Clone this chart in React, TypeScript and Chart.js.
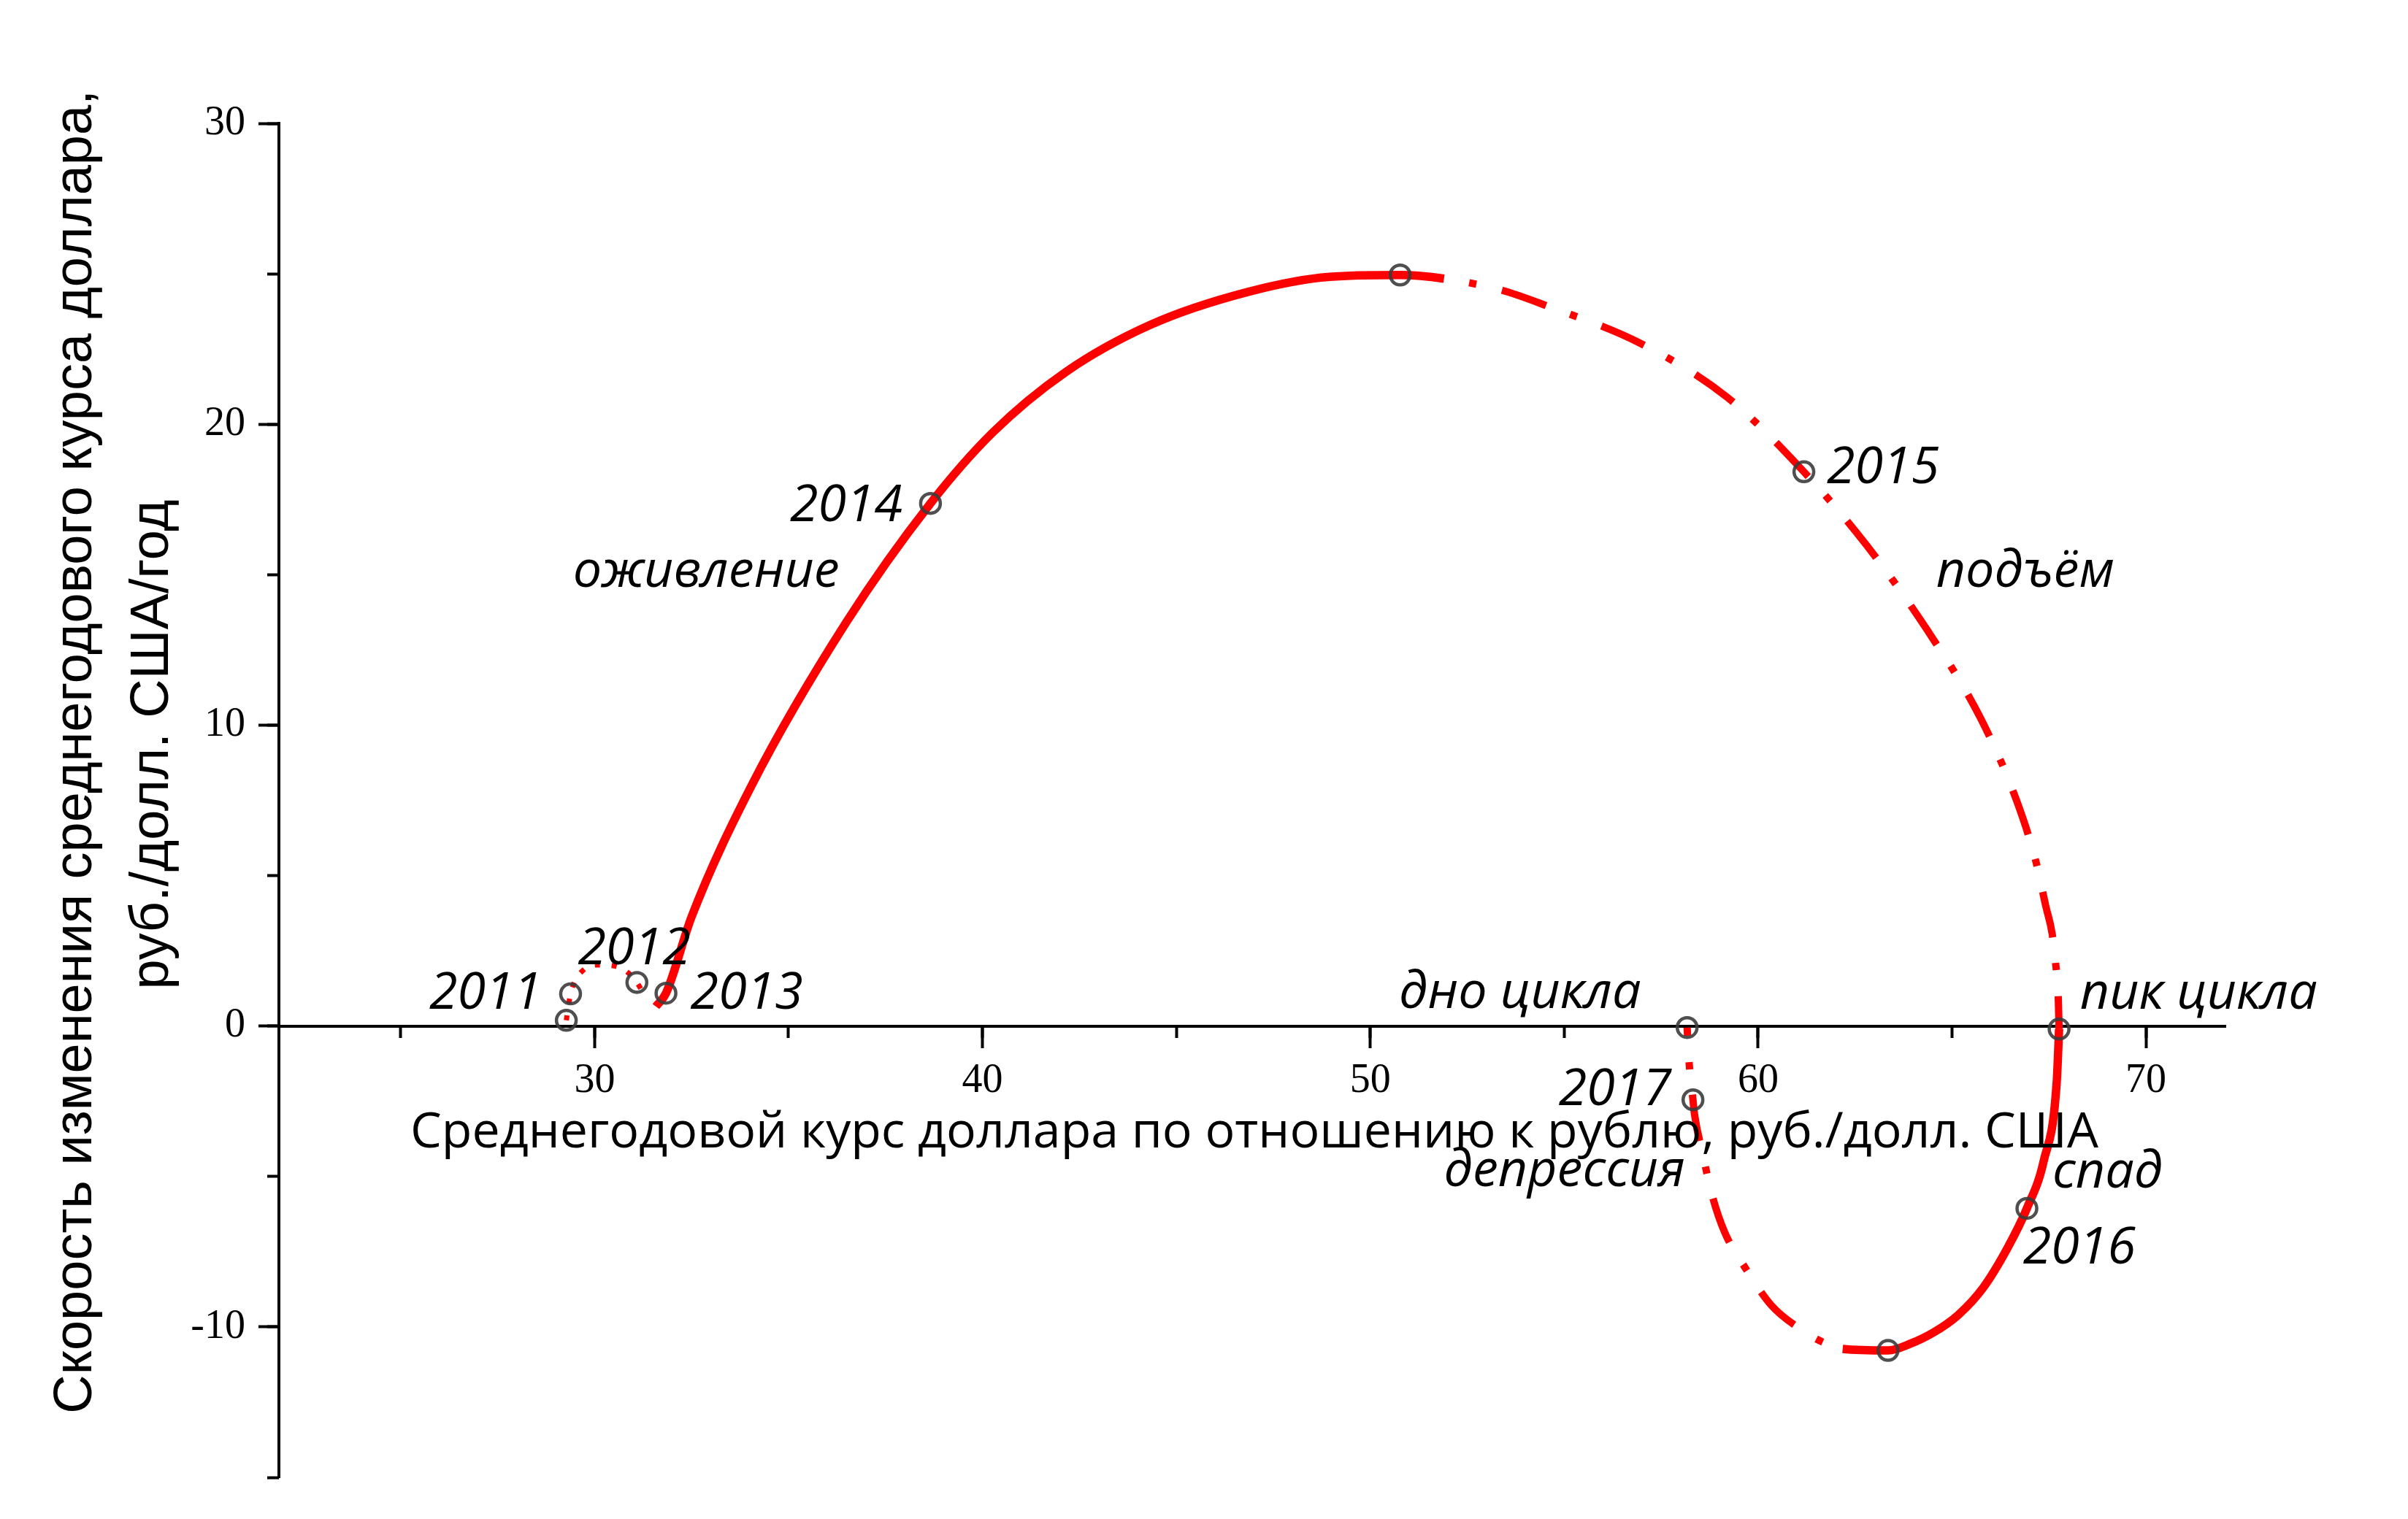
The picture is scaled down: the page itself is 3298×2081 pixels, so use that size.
import { useEffect, useRef } from 'react';
import { Chart, registerables } from 'chart.js';

Chart.register(...registerables);

// ---------- data ----------
const X_MIN = 21.86;
const X_MAX = 72.05;
const Y_MIN = -15;
const Y_MAX = 30;

// 2010 -> 2013 (dotted)
const preX = [29.27, 29.38, 29.72, 30.11, 30.66, 31.09, 31.30];
const preY = [0.19, 1.07, 1.87, 2.03, 1.94, 1.45, 0.97];

// оживление (solid)
const riseX = [31.58, 31.84, 32.50, 34.05, 36.49, 38.66, 40.26, 42.14, 44.34, 46.85, 48.95, 50.77, 51.90];
const riseY = [0.65, 1.09, 3.63, 8.00, 13.42, 17.37, 19.72, 21.73, 23.31, 24.40, 24.90, 24.96, 24.84];

// подъём (dash-dot)
const upX = [51.90, 53.40, 54.50, 56.95, 59.20, 61.18, 62.79, 64.35, 65.72, 66.66, 67.17, 67.42, 67.58, 67.67, 67.74, 67.76];
const upY = [24.84, 24.45, 23.96, 22.70, 20.90, 18.42, 15.99, 13.18, 10.27, 7.51, 5.43, 3.97, 3.08, 2.10, 0.90, -0.10];

// спад (solid)
const downX = [67.76, 67.70, 67.36, 66.93, 66.42, 65.80, 65.16, 64.54, 63.92, 63.35, 62.18];
const downY = [-0.10, -1.84, -4.50, -6.06, -7.40, -8.70, -9.60, -10.17, -10.56, -10.78, -10.73];

// депрессия (dash-dot)
const deprX = [62.18, 61.66, 61.15, 60.34, 59.70, 59.14, 58.83, 58.56, 58.36, 58.32, 58.22, 58.17];
const deprY = [-10.73, -10.50, -10.12, -9.28, -8.10, -6.86, -5.70, -4.19, -2.93, -2.45, -1.20, -0.05];

// circle markers
const markX = [29.27, 29.38, 31.09, 31.84, 38.66, 50.77, 61.18, 67.76, 66.93, 63.35, 58.32, 58.17];
const markY = [0.19, 1.07, 1.45, 1.09, 17.37, 24.96, 18.42, -0.10, -6.06, -10.78, -2.45, -0.05];

// tick steps
const X_MAJOR_STEP = 10;
const X_MINOR_STEP = 5;
const Y_MAJOR_STEP = 10;
const Y_MINOR_STEP = 5;

// annotations
const annoText = ['2011', '2012', '2013', '2014', '2015', '2016', '2017', 'оживление', 'подъём', 'пик цикла', 'спад', 'депрессия', 'дно цикла'];
const annoX = [28.64, 29.57, 32.47, 37.94, 61.77, 66.83, 57.76, 29.44, 64.59, 68.30, 67.59, 58.12, 50.74];
const annoY = [0.58, 2.06, 0.58, 16.79, 18.05, -7.90, -2.62, 14.59, 14.59, 0.58, -5.36, -5.33, 0.61];
const annoAlign = ['right', 'left', 'left', 'right', 'left', 'left', 'right', 'left', 'left', 'left', 'left', 'right', 'left'];

const xTitle = 'Среднегодовой курс доллара по отношению к рублю, руб./долл. США';
const yTitleLines = ['Скорость изменения среднегодового курса доллара,', 'руб./долл. США/год'];

// ---------- styling ----------
const RED = '#ff0000';
const NONE = 'rgba(0,0,0,0)';
const LINE_W = 11.5;
const DASH_W = 10;
const DASH_DOT = [64, 35, 10, 36];
const TICK_FONT = { family: '"Liberation Serif", serif', size: 56 };

const pts = (xs: number[], ys: number[]) => xs.map((x, i) => ({ x, y: ys[i] }));

// a neighbour point from the adjoining part of the curve is added (drawn invisibly)
// so that the smooth curve joins without a corner
function withNeighbours(xs: number[], ys: number[], lead: { x: number; y: number } | null, tail: { x: number; y: number } | null) {
  const data = pts(xs, ys);
  if (lead) data.unshift(lead);
  if (tail) data.push(tail);
  const n = data.length;
  return {
    data,
    segment: {
      borderColor: (c: any) => ((lead && c.p0DataIndex === 0) || (tail && c.p1DataIndex === n - 1) ? NONE : RED),
    },
  };
}

const textPlugin = {
  id: 'textPlugin',
  afterDraw(chart: any) {
    const { ctx, chartArea } = chart;
    const sx = chart.scales.x;
    const sy = chart.scales.y;
    ctx.save();
    ctx.fillStyle = '#000';
    ctx.textBaseline = 'alphabetic';
    ctx.font = 'italic 70px "Open Sans"';
    annoText.forEach((t, i) => {
      ctx.textAlign = annoAlign[i];
      ctx.fillText(t, sx.getPixelForValue(annoX[i]), sy.getPixelForValue(annoY[i]));
    });
    // x axis title
    ctx.font = '68px "Open Sans"';
    ctx.textAlign = 'center';
    ctx.fillText(xTitle, (chartArea.left + chartArea.right) / 2 + 3, sy.getPixelForValue(0) + 166);
    // y axis title
    ctx.font = '74px "Liberation Sans"';
    ctx.textBaseline = 'middle';
    const cx = [chartArea.left - 277, chartArea.left - 172];
    const cy = [1030, 1020];
    yTitleLines.forEach((line, i) => {
      ctx.save();
      ctx.translate(cx[i], cy[i]);
      ctx.rotate(-Math.PI / 2);
      ctx.textAlign = 'center';
      ctx.fillText(line, 0, 0);
      ctx.restore();
    });
    ctx.restore();
  },
};

export default function App() {
  const ref = useRef<HTMLCanvasElement>(null);
  useEffect(() => {
    if (!ref.current) return;
    const lineBase = {
      showLine: true,
      borderColor: RED,
      pointRadius: 0,
      cubicInterpolationMode: 'monotone',
      fill: false,
      order: 1,
    };
    const riseD = withNeighbours(riseX, riseY, null, { x: upX[1], y: upY[1] });
    const upD = withNeighbours(upX, upY, { x: riseX[riseX.length - 2], y: riseY[riseY.length - 2] }, null);
    const downD = withNeighbours(downX, downY, null, { x: deprX[1], y: deprY[1] });
    const deprD = withNeighbours(deprX, deprY, { x: downX[downX.length - 2], y: downY[downY.length - 2] }, null);
    const chart = new Chart(ref.current, {
      type: 'scatter',
      data: {
        datasets: [
          {
            label: 'points',
            data: pts(markX, markY),
            showLine: false,
            pointRadius: 13.5,
            pointBorderWidth: 4.5,
            pointBorderColor: 'rgba(60,60,60,0.9)',
            pointBackgroundColor: NONE,
            order: 0,
          },
          { ...lineBase, label: 'pre', data: pts(preX, preY), borderWidth: 7, borderDash: [7, 16] },
          { ...lineBase, label: 'rise', ...riseD, borderWidth: LINE_W },
          { ...lineBase, label: 'up', ...upD, borderWidth: DASH_W, borderDash: DASH_DOT, borderDashOffset: 64 },
          { ...lineBase, label: 'down', ...downD, borderWidth: LINE_W },
          { ...lineBase, label: 'depr', ...deprD, borderWidth: DASH_W, borderDash: DASH_DOT, borderDashOffset: 70 },
        ] as any,
      },
      options: {
        responsive: false,
        devicePixelRatio: 1,
        animation: false,
        events: [],
        layout: { padding: { top: 169, bottom: 57, left: 0, right: 250 } },
        plugins: { legend: { display: false }, tooltip: { enabled: false } },
        scales: {
          x: {
            type: 'linear',
            min: X_MIN,
            max: X_MAX,
            position: { y: 0 } as any,
            afterFit: (s: any) => { s.height = 0; },
            grid: { drawOnChartArea: false, drawTicks: true, tickLength: 28, tickWidth: 4, tickColor: '#000' },
            border: { display: true, color: '#000', width: 4 },
            ticks: { stepSize: X_MAJOR_STEP, includeBounds: false, autoSkip: false, maxRotation: 0, color: '#000', font: TICK_FONT, padding: 14 },
          },
          xMinor: {
            type: 'linear',
            axis: 'x',
            min: X_MIN,
            max: X_MAX,
            position: { y: 0 } as any,
            afterFit: (s: any) => { s.height = 0; },
            grid: { drawOnChartArea: false, drawTicks: true, tickLength: 16, tickWidth: 4, tickColor: '#000' },
            border: { display: false },
            ticks: { stepSize: X_MINOR_STEP, includeBounds: false, autoSkip: false, display: false },
          },
          y: {
            type: 'linear',
            min: Y_MIN,
            max: Y_MAX,
            position: 'left',
            afterFit: (s: any) => { s.width = 382; },
            grid: { drawOnChartArea: false, drawTicks: true, tickLength: 28, tickWidth: 4, tickColor: '#000' },
            border: { display: true, color: '#000', width: 4 },
            ticks: { stepSize: Y_MAJOR_STEP, includeBounds: false, autoSkip: false, color: '#000', font: TICK_FONT, padding: 18 },
          },
          yMinor: {
            type: 'linear',
            axis: 'y',
            min: Y_MIN,
            max: Y_MAX,
            position: { x: X_MIN } as any,
            afterFit: (s: any) => { s.width = 0; },
            grid: { drawOnChartArea: false, drawTicks: true, tickLength: 16, tickWidth: 4, tickColor: '#000' },
            border: { display: false },
            ticks: { stepSize: Y_MINOR_STEP, includeBounds: true, autoSkip: false, display: false },
          },
        } as any,
      },
      plugins: [textPlugin],
    });
    return () => chart.destroy();
  }, []);
  return (
    <div style={{ position: 'fixed', left: 0, top: 0, width: 3298, height: 2081, background: '#fff' }}>
      <canvas ref={ref} width={3298} height={2081} style={{ display: 'block' }} />
    </div>
  );
}
